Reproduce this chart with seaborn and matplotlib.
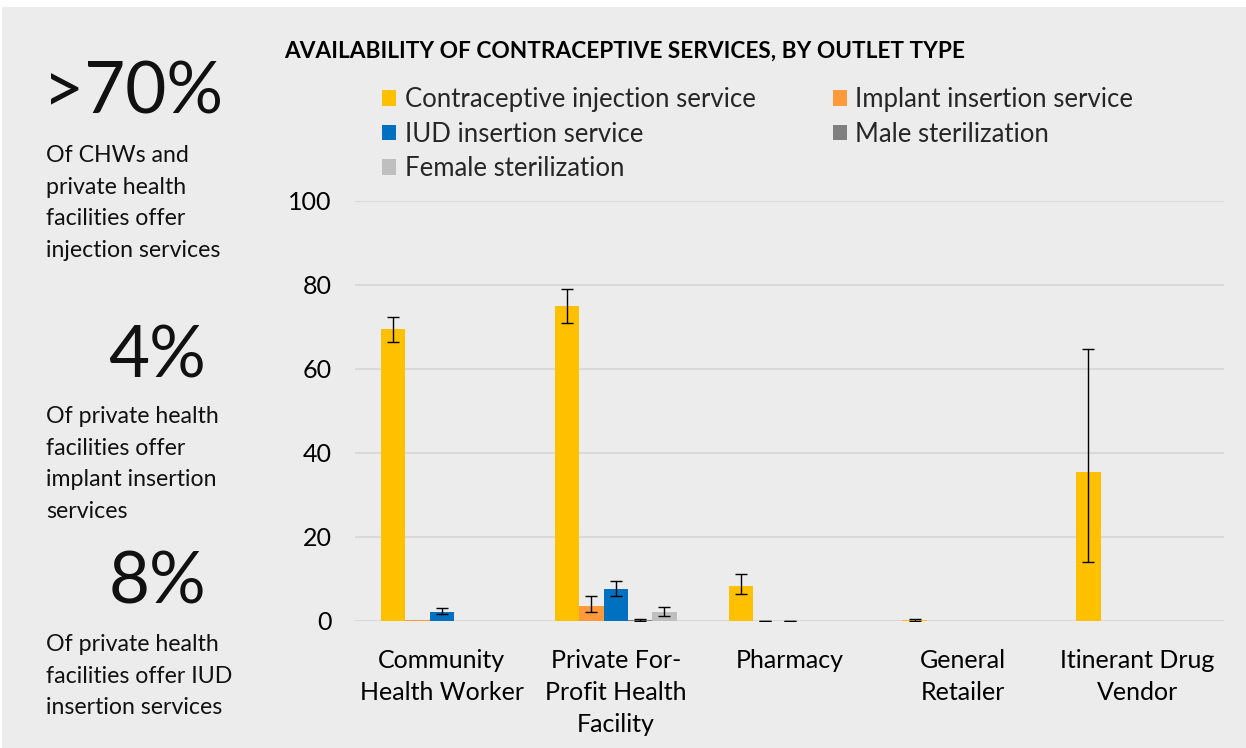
import matplotlib
matplotlib.use("Agg")
import matplotlib.pyplot as plt
import matplotlib.patches as mpatches
import seaborn as sns
import pandas as pd
import numpy as np

categories = ["Community\nHealth Worker", "Private For-\nProfit Health\nFacility",
              "Pharmacy", "General\nRetailer", "Itinerant Drug\nVendor"]
series = ["Contraceptive injection service", "Implant insertion service",
          "IUD insertion service", "Male sterilization", "Female sterilization"]

injection = [69.5, 75.0, 8.3, 0.3, 35.5]
injection_lo = [66.5, 71.0, 6.4, 0.1, 14.0]
injection_hi = [72.5, 79.0, 11.2, 0.5, 64.8]

implant = [0.2, 3.6, 0.0, 0.1, 0.0]
implant_lo = [None, 2.1, 0.0, None, None]
implant_hi = [None, 6.0, 0.1, None, None]

iud = [2.1, 7.6, 0.0, 0.0, 0.0]
iud_lo = [1.6, 6.0, 0.0, None, None]
iud_hi = [3.1, 9.5, 0.1, None, None]

male = [0.0, 0.3, 0.0, 0.0, 0.0]
male_lo = [None, 0.1, None, None, None]
male_hi = [None, 0.5, None, None, None]

female = [0.0, 2.1, 0.0, 0.1, 0.0]
female_lo = [None, 1.2, None, None, None]
female_hi = [None, 3.4, None, None, None]

values = [injection, implant, iud, male, female]
lows = [injection_lo, implant_lo, iud_lo, male_lo, female_lo]
highs = [injection_hi, implant_hi, iud_hi, male_hi, female_hi]
colors = ["#FFC000", "#FF9A3C", "#0070C0", "#808080", "#BFBFBF"]

rows = []
for s, vals in zip(series, values):
    for c, v in zip(categories, vals):
        rows.append({"Outlet": c, "Service": s, "Value": v})
df = pd.DataFrame(rows)

BG = "#ECECEC"
FONT = "Lato"

sns.set_theme(style="white")
plt.rcParams["font.family"] = [FONT, "DejaVu Sans"]

fig = plt.figure(figsize=(12.46, 7.48), dpi=100, facecolor="white")
fig.patches.append(mpatches.Rectangle((2 / 1246, 0), 1, 1 - 7 / 748,
                                      transform=fig.transFigure, facecolor=BG,
                                      edgecolor="none", zorder=-10))

ax = fig.add_axes([355 / 1246, 1 - 621 / 748, (1224 - 355) / 1246, (621 - 201) / 748])
ax.set_facecolor(BG)

sns.barplot(data=df, x="Outlet", y="Value", hue="Service", order=categories,
            hue_order=series, palette=colors, width=0.7, errorbar=None,
            saturation=1, legend=False, ax=ax, zorder=3, linewidth=0,
            edgecolor="none")

for cont, lo, hi in zip(ax.containers, lows, highs):
    for bar, l, h in zip(cont, lo, hi):
        if l is None:
            continue
        v = bar.get_height()
        xc = bar.get_x() + bar.get_width() / 2
        ax.errorbar([xc], [v], yerr=[[v - l], [h - v]], fmt="none",
                    ecolor="black", elinewidth=1.0, capsize=4.3,
                    capthick=1.0, zorder=4)

ax.set_ylim(0, 100)
ax.set_yticks([0, 20, 40, 60, 80, 100])
ax.set_xlim(-0.5, 4.5)
ax.yaxis.grid(True, color="#D9D9D9", linewidth=1.5, zorder=0)
ax.set_axisbelow(True)
for sp in ax.spines.values():
    sp.set_visible(False)
ax.axhline(0, color="#D9D9D9", linewidth=1.8, zorder=2)
ax.tick_params(axis="both", length=0, labelsize=18, colors="black")
ax.tick_params(axis="y", pad=17)
ax.tick_params(axis="x", pad=20)
ax.set_xlabel("")
ax.set_ylabel("")
for lab in ax.get_xticklabels():
    lab.set_linespacing(1.47)
    lab.set_verticalalignment("top")

# legend
handles = [mpatches.Patch(facecolor=c, edgecolor="none") for c in colors]
order = [0, 2, 4, 1, 3]
fig.legend([handles[i] for i in order], [series[i] for i in order],
           ncol=2, loc="upper left", bbox_to_anchor=(382 / 1246, 1 - 87 / 748),
           frameon=False, fontsize=18.5, handlelength=0.55, handleheight=0.55,
           handletextpad=0.33, columnspacing=3.0, labelspacing=0.37,
           borderaxespad=0, borderpad=0)

fig.text(284 / 1246, 1 - 51 / 748, "AVAILABILITY OF CONTRACEPTIVE SERVICES, BY OUTLET TYPE",
         fontsize=16.3, fontweight="bold", ha="left", va="center", color="black")

# left panel texts
big = 51
small = 16.7
ls = 1.63
fig.text(133 / 1246, 1 - 93 / 748, ">70%", fontsize=big, ha="center", va="center", color="#111111")
fig.text(46 / 1246, 1 - 145 / 748, "Of CHWs and\nprivate health\nfacilities offer\ninjection services",
         fontsize=small, ha="left", va="top", linespacing=ls, color="#111111")
fig.text(157 / 1246, 1 - 357 / 748, "4%", fontsize=big, ha="center", va="center", color="#111111")
fig.text(46 / 1246, 1 - 406 / 748, "Of private health\nfacilities offer\nimplant insertion\nservices",
         fontsize=small, ha="left", va="top", linespacing=ls, color="#111111")
fig.text(157 / 1246, 1 - 583 / 748, "8%", fontsize=big, ha="center", va="center", color="#111111")
fig.text(46 / 1246, 1 - 634 / 748, "Of private health\nfacilities offer IUD\ninsertion services",
         fontsize=small, ha="left", va="top", linespacing=ls, color="#111111")

fig.savefig("out.png", dpi=100, facecolor=fig.get_facecolor())
